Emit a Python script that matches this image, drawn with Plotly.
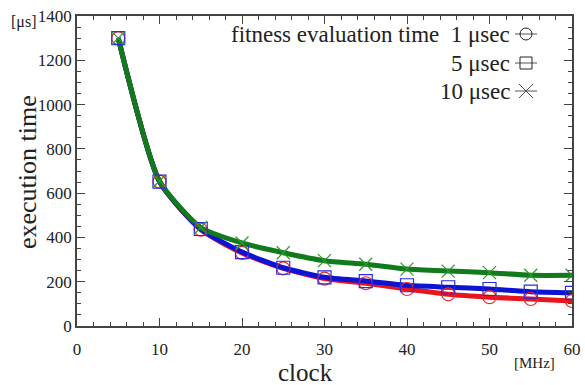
import plotly.graph_objects as go

clock = [5, 10, 15, 20, 25, 30, 35, 40, 45, 50, 55, 60]
t_1us = [1300, 652, 435, 330, 260, 214, 193, 167, 143, 130, 122, 113]
t_5us = [1300, 652, 438, 334, 263, 220, 203, 184, 175, 167, 155, 150]
t_10us = [1300, 655, 445, 375, 331, 295, 279, 257, 248, 241, 229, 229]

series_names = ["1 μsec", "5 μsec", "10 μsec"]
line_colors = ["#e8141e", "#0a14d2", "#117a1a"]
marker_colors = ["#ee2a2a", "#2a2ae6", "#2a9a2a"]
symbols = ["circle-open", "square-open", "x-thin-open"]
values = [t_1us, t_5us, t_10us]

FONT = "Liberation Serif, Times New Roman, serif"

fig = go.Figure()
for v, c in zip(values, line_colors):
    fig.add_trace(go.Scatter(x=clock, y=v, mode="lines",
                             line=dict(color=c, width=5, shape="spline", smoothing=0.6),
                             showlegend=False, hoverinfo="skip"))
for v, c, s, n in zip(values, marker_colors, symbols, series_names):
    fig.add_trace(go.Scatter(x=clock, y=v, mode="markers", name=n,
                             marker=dict(symbol=s, size=13, color=c,
                                         line=dict(color=c, width=1.2)),
                             showlegend=False))

axis_common = dict(showline=True, linecolor="#444", linewidth=1.5, mirror="ticks",
                   ticks="inside", ticklen=8, tickwidth=1.2, tickcolor="#444",
                   showgrid=False, zeroline=False, automargin=False,
                   tickfont=dict(family=FONT, size=17, color="#222"))

fig.update_xaxes(range=[0, 60], dtick=10, tick0=0, ticklabelstandoff=7,
                 minor=dict(dtick=2, ticks="inside", ticklen=4, tickcolor="#444", tickwidth=1),
                 **axis_common)
fig.update_yaxes(range=[0, 1400], dtick=200, tick0=0,
                 minor=dict(dtick=50, ticks="inside", ticklen=4, tickcolor="#444", tickwidth=1),
                 **axis_common)

FW, FH = 585, 385
L, R, T, B = 77, 13, 16, 59
W, H = FW - L - R, FH - T - B
def px(xp):
    return (xp - L) / W
def py(yp):
    return (FH - B - yp) / H

legend_rows = [34, 63, 91]
legend_texts = ["fitness evaluation time  1 μsec", "5 μsec", "10 μsec"]
annotations = []
shapes = []
for yrow, txt, sym in zip(legend_rows, legend_texts, symbols):
    annotations.append(dict(xref="paper", yref="paper", x=px(512), y=py(yrow),
                            xanchor="right", yanchor="middle", showarrow=False,
                            text=txt, font=dict(family=FONT, size=23, color="#222")))
    shapes.append(dict(type="line", xref="paper", yref="paper",
                       x0=px(515), x1=px(537), y0=py(yrow), y1=py(yrow),
                       line=dict(color="#555", width=1)))
    cx, cy = 526, yrow
    if sym.startswith("circle"):
        shapes.append(dict(type="circle", xref="paper", yref="paper",
                           x0=px(cx - 6), x1=px(cx + 6), y0=py(cy + 6), y1=py(cy - 6),
                           line=dict(color="#222", width=1)))
    elif sym.startswith("square"):
        shapes.append(dict(type="rect", xref="paper", yref="paper",
                           x0=px(cx - 6), x1=px(cx + 6), y0=py(cy + 6), y1=py(cy - 6),
                           line=dict(color="#222", width=1)))
    else:
        for d in (1, -1):
            shapes.append(dict(type="line", xref="paper", yref="paper",
                               x0=px(cx - 7), x1=px(cx + 7), y0=py(cy - 7 * d), y1=py(cy + 7 * d),
                               line=dict(color="#555", width=1)))

# axis titles and unit labels
annotations.append(dict(xref="paper", yref="paper", x=px(28), y=py(172),
                        xanchor="center", yanchor="middle", showarrow=False, textangle=-90,
                        text="execution time", font=dict(family=FONT, size=26, color="#222")))
annotations.append(dict(xref="paper", yref="paper", x=px(305), y=py(372),
                        xanchor="center", yanchor="middle", showarrow=False, borderpad=0,
                        text="clock", font=dict(family=FONT, size=25, color="#222")))
annotations.append(dict(xref="paper", yref="paper", x=px(38), y=py(22),
                        xanchor="right", yanchor="middle", showarrow=False,
                        text="[μs]", font=dict(family=FONT, size=16, color="#222")))
annotations.append(dict(xref="paper", yref="paper", x=px(557), y=py(363),
                        xanchor="right", yanchor="middle", showarrow=False,
                        text="[MHz]", font=dict(family=FONT, size=15, color="#222")))

fig.update_layout(width=FW, height=FH,
                  margin=dict(l=L, r=R, t=T, b=B),
                  paper_bgcolor="white", plot_bgcolor="white",
                  annotations=annotations, shapes=shapes,
                  showlegend=False)

fig.write_html("out.html", config={"displayModeBar": False},
               post_script="document.body.style.margin='0';")
